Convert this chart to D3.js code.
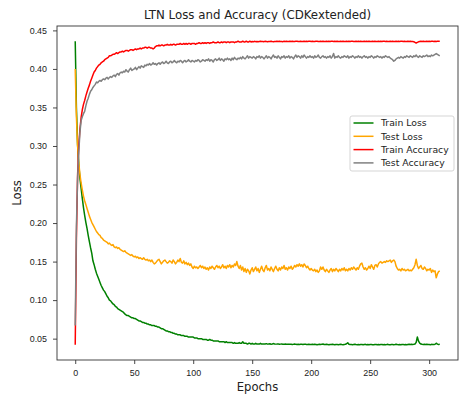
<!DOCTYPE html>
<html>
<head>
<meta charset="utf-8">
<script src="https://cdn.jsdelivr.net/npm/d3@7"></script>
<style>
  body { margin: 0; background: #fff; }
  svg { display: block; font-family: "DejaVu Sans", sans-serif; }
  .tick text { fill: #222; font-size: 8.9px; }
  .tick line { stroke: #333; stroke-width: 0.9; }
</style>
</head>
<body>
<svg id="ltnChart" width="459" height="398"></svg>
<script>
// values, one per epoch (0..309)
const trainLoss = [
  0.436, 0.350, 0.302, 0.276, 0.258, 0.245, 0.232, 0.220, 0.210, 0.201,
  0.193, 0.184, 0.176, 0.168, 0.161, 0.151, 0.146, 0.140, 0.135, 0.131,
  0.127, 0.123, 0.119, 0.116, 0.113, 0.111, 0.108, 0.105, 0.103, 0.100,
  0.099, 0.097, 0.095, 0.094, 0.092, 0.091, 0.089, 0.088, 0.087, 0.086,
  0.085, 0.084, 0.082, 0.081, 0.080, 0.080, 0.079, 0.078, 0.077, 0.077,
  0.076, 0.076, 0.075, 0.074, 0.073, 0.073, 0.072, 0.071, 0.071, 0.070,
  0.070, 0.069, 0.069, 0.068, 0.068, 0.067, 0.067, 0.067, 0.066, 0.066,
  0.065, 0.065, 0.064, 0.063, 0.063, 0.062, 0.061, 0.060, 0.060, 0.059,
  0.059, 0.058, 0.058, 0.057, 0.057, 0.056, 0.056, 0.055, 0.055, 0.055,
  0.054, 0.054, 0.054, 0.053, 0.053, 0.053, 0.052, 0.052, 0.052, 0.052,
  0.052, 0.051, 0.051, 0.051, 0.050, 0.050, 0.050, 0.050, 0.049, 0.049,
  0.049, 0.049, 0.048, 0.048, 0.049, 0.048, 0.048, 0.047, 0.047, 0.047,
  0.047, 0.047, 0.046, 0.046, 0.046, 0.046, 0.046, 0.045, 0.046, 0.045,
  0.045, 0.045, 0.045, 0.045, 0.044, 0.045, 0.044, 0.044, 0.044, 0.045,
  0.044, 0.044, 0.046, 0.044, 0.044, 0.044, 0.043, 0.044, 0.044, 0.043,
  0.044, 0.043, 0.043, 0.044, 0.043, 0.043, 0.043, 0.044, 0.043, 0.043,
  0.0432, 0.0430, 0.0435, 0.0429, 0.0431, 0.0433, 0.0428, 0.0430, 0.0436, 0.0431,
  0.0429, 0.0430, 0.0432, 0.0427, 0.0429, 0.0431, 0.0428, 0.0426, 0.0430, 0.0428,
  0.0427, 0.0429, 0.0426, 0.0428, 0.0425, 0.0427, 0.0430, 0.0426, 0.0424, 0.0427,
  0.0425, 0.0428, 0.0426, 0.0423, 0.0426, 0.0429, 0.0425, 0.0424, 0.0427, 0.0425,
  0.0423, 0.0426, 0.0424, 0.0428, 0.0425, 0.0422, 0.0425, 0.0427, 0.0424, 0.0426,
  0.0431, 0.0425, 0.0423, 0.0426, 0.0424, 0.0422, 0.0425, 0.0423, 0.0426, 0.0424,
  0.0422, 0.0425, 0.0423, 0.0421, 0.0424, 0.0426, 0.0423, 0.0421, 0.0424, 0.0427,
  0.0433, 0.0447, 0.0428, 0.0423, 0.0425, 0.0422, 0.0424, 0.0426, 0.0423, 0.0421,
  0.0424, 0.0422, 0.0425, 0.0423, 0.0421, 0.0424, 0.0426, 0.0422, 0.0424, 0.0421,
  0.0423, 0.0425, 0.0422, 0.0420, 0.0423, 0.0425, 0.0422, 0.0424, 0.0421, 0.0423,
  0.0425, 0.0422, 0.0424, 0.0421, 0.0423, 0.0426, 0.0422, 0.0420, 0.0423, 0.0425,
  0.0422, 0.0424, 0.0427, 0.0423, 0.0421, 0.0424, 0.0422, 0.0425, 0.0423, 0.0421,
  0.0424, 0.0422, 0.0425, 0.0428, 0.0423, 0.0426, 0.0424, 0.0427, 0.0431, 0.0452,
  0.0521, 0.0468, 0.0441, 0.0430, 0.0427, 0.0425, 0.0428, 0.0424, 0.0426, 0.0423,
  0.0425, 0.0422, 0.0426, 0.0423, 0.0425, 0.0428, 0.0441, 0.0429, 0.0424, 0.0426
];

const testLoss = [
  0.400, 0.338, 0.300, 0.278, 0.263, 0.252, 0.243, 0.235, 0.229, 0.224,
  0.219, 0.214, 0.209, 0.205, 0.201, 0.198, 0.195, 0.192, 0.189, 0.187,
  0.185, 0.184, 0.181, 0.180, 0.178, 0.177, 0.176, 0.175, 0.173, 0.174,
  0.172, 0.171, 0.172, 0.169, 0.168, 0.169, 0.167, 0.168, 0.166, 0.165,
  0.164, 0.163, 0.164, 0.162, 0.161, 0.160, 0.159, 0.158, 0.159, 0.157,
  0.156, 0.157, 0.155, 0.156, 0.154, 0.155, 0.154, 0.153, 0.155, 0.153,
  0.152, 0.153, 0.151, 0.152, 0.150, 0.152, 0.149, 0.147, 0.148, 0.150,
  0.152, 0.153, 0.150, 0.147, 0.149, 0.151, 0.152, 0.150, 0.148, 0.149,
  0.151, 0.150, 0.148, 0.152, 0.150, 0.147, 0.149, 0.152, 0.150, 0.154,
  0.149, 0.148, 0.151, 0.147, 0.149, 0.146, 0.148, 0.145, 0.147, 0.143,
  0.141, 0.144, 0.142, 0.143, 0.141, 0.143, 0.145, 0.142, 0.144, 0.141,
  0.143, 0.140, 0.142, 0.139, 0.143, 0.141, 0.144, 0.142, 0.140, 0.143,
  0.145, 0.142, 0.144, 0.141, 0.143, 0.146, 0.142, 0.144, 0.141, 0.145,
  0.143, 0.146, 0.142, 0.145, 0.143, 0.147, 0.145, 0.150, 0.144, 0.141,
  0.145, 0.139, 0.143, 0.137, 0.141, 0.136, 0.140, 0.138, 0.134, 0.139,
  0.142, 0.137, 0.140, 0.143, 0.138, 0.141, 0.136, 0.140, 0.144, 0.139,
  0.137, 0.142, 0.145, 0.139, 0.141, 0.138, 0.143, 0.140, 0.137, 0.141,
  0.144, 0.140, 0.138, 0.142, 0.139, 0.143, 0.141, 0.145, 0.140, 0.142,
  0.139, 0.143, 0.141, 0.144, 0.140, 0.142, 0.145, 0.143, 0.146, 0.144,
  0.147, 0.144, 0.146, 0.143, 0.147, 0.145, 0.142, 0.144, 0.141, 0.139,
  0.141, 0.139, 0.138, 0.140, 0.137, 0.139, 0.136, 0.138, 0.143, 0.140,
  0.143, 0.139, 0.137, 0.140, 0.138, 0.136, 0.139, 0.141, 0.137, 0.140,
  0.138, 0.141, 0.139, 0.137, 0.140, 0.138, 0.141, 0.139, 0.142, 0.138,
  0.140, 0.138, 0.141, 0.139, 0.142, 0.140, 0.143, 0.141, 0.139, 0.142,
  0.140, 0.144, 0.147, 0.148, 0.143, 0.140, 0.142, 0.139, 0.141, 0.144,
  0.141, 0.146, 0.143, 0.140, 0.145, 0.146, 0.143, 0.147, 0.149, 0.150,
  0.148, 0.149, 0.150, 0.149, 0.151, 0.150, 0.151, 0.152, 0.149, 0.151,
  0.152, 0.150, 0.144, 0.141, 0.139, 0.140, 0.138, 0.141, 0.139, 0.140,
  0.138, 0.139, 0.140, 0.138, 0.139, 0.138, 0.140, 0.142, 0.146, 0.153,
  0.145, 0.141, 0.143, 0.145, 0.141, 0.140, 0.143, 0.141, 0.138, 0.140,
  0.139, 0.141, 0.136, 0.139, 0.137, 0.138, 0.129, 0.134, 0.137, 0.138
];

const trainAcc = [
  0.042, 0.180, 0.262, 0.300, 0.322, 0.337, 0.347, 0.354, 0.359, 0.365,
  0.370, 0.375, 0.379, 0.384, 0.388, 0.392, 0.396, 0.398, 0.401, 0.403,
  0.405, 0.406, 0.408, 0.409, 0.410, 0.412, 0.413, 0.414, 0.415, 0.417,
  0.417, 0.418, 0.419, 0.419, 0.420, 0.421, 0.420, 0.421, 0.422, 0.422,
  0.423, 0.422, 0.423, 0.424, 0.424, 0.423, 0.424, 0.425, 0.425, 0.424,
  0.425, 0.426, 0.425, 0.426, 0.426, 0.427, 0.426, 0.427, 0.427, 0.428,
  0.428, 0.427, 0.428, 0.428, 0.427, 0.427, 0.426, 0.427, 0.429, 0.430,
  0.430, 0.431, 0.430, 0.431, 0.431, 0.430, 0.431, 0.431, 0.432, 0.431,
  0.431, 0.432, 0.431, 0.432, 0.432, 0.431, 0.432, 0.432, 0.432, 0.433,
  0.432, 0.432, 0.433, 0.432, 0.433, 0.432, 0.433, 0.433, 0.432, 0.433,
  0.433, 0.433, 0.432, 0.433, 0.433, 0.434, 0.433, 0.433, 0.434, 0.433,
  0.434, 0.433, 0.434, 0.434, 0.433, 0.434, 0.434, 0.435, 0.434, 0.434,
  0.434, 0.435, 0.434, 0.434, 0.435, 0.434, 0.435, 0.435, 0.434, 0.435,
  0.435, 0.434, 0.435, 0.435, 0.435, 0.434, 0.435, 0.435, 0.436, 0.435,
  0.435, 0.435, 0.436, 0.435, 0.435, 0.436, 0.435, 0.435, 0.436, 0.435,
  0.4356, 0.4352, 0.4358, 0.4354, 0.4357, 0.4353, 0.4356, 0.4359, 0.4355, 0.4357,
  0.4354, 0.4358, 0.4356, 0.4353, 0.4357, 0.4355, 0.4359, 0.4356, 0.4354, 0.4357,
  0.4355, 0.4358, 0.4356, 0.4359, 0.4355, 0.4357, 0.4354, 0.4358, 0.4356, 0.4359,
  0.4357, 0.4355, 0.4358, 0.4356, 0.4359, 0.4357, 0.4355, 0.4358, 0.4360, 0.4357,
  0.4356, 0.4359, 0.4357, 0.4355, 0.4358, 0.4356, 0.4359, 0.4357, 0.4360, 0.4358,
  0.4356, 0.4359, 0.4357, 0.4355, 0.4358, 0.4360, 0.4357, 0.4355, 0.4358, 0.4356,
  0.4359, 0.4357, 0.4355, 0.4358, 0.4356, 0.4359, 0.4357, 0.4360, 0.4358, 0.4356,
  0.4358, 0.4356, 0.4359, 0.4357, 0.4355, 0.4358, 0.4356, 0.4359, 0.4357, 0.4355,
  0.4358, 0.4356, 0.4359, 0.4357, 0.4360, 0.4358, 0.4355, 0.4357, 0.4359, 0.4356,
  0.4358, 0.4356, 0.4359, 0.4357, 0.4355, 0.4358, 0.4356, 0.4359, 0.4357, 0.4360,
  0.4357, 0.4355, 0.4358, 0.4356, 0.4359, 0.4357, 0.4355, 0.4358, 0.4356, 0.4359,
  0.4357, 0.4360, 0.4358, 0.4356, 0.4359, 0.4357, 0.4355, 0.4358, 0.4356, 0.4359,
  0.4357, 0.4355, 0.4358, 0.4356, 0.4359, 0.4357, 0.4360, 0.4358, 0.4356, 0.4359,
  0.4357, 0.4355, 0.4358, 0.4356, 0.4359, 0.4357, 0.4356, 0.4353, 0.4345, 0.4336,
  0.4344, 0.4352, 0.4356, 0.4358, 0.4356, 0.4359, 0.4357, 0.4355, 0.4358, 0.4356,
  0.4359, 0.4357, 0.4360, 0.4358, 0.4356, 0.4359, 0.4357, 0.4360, 0.4358, 0.4359
];

const testAcc = [
  0.067, 0.195, 0.258, 0.292, 0.318, 0.333, 0.338, 0.342, 0.345, 0.352,
  0.358, 0.362, 0.367, 0.371, 0.373, 0.376, 0.378, 0.380, 0.383, 0.382,
  0.384, 0.385, 0.384, 0.386, 0.387, 0.386, 0.388, 0.389, 0.387, 0.389,
  0.390, 0.389, 0.391, 0.392, 0.390, 0.393, 0.394, 0.392, 0.395, 0.396,
  0.395, 0.397, 0.396, 0.399, 0.397, 0.396, 0.399, 0.401, 0.398, 0.399,
  0.400, 0.402, 0.399, 0.401, 0.403, 0.401, 0.404, 0.403, 0.402, 0.405,
  0.404, 0.406, 0.405, 0.407, 0.405, 0.406, 0.408, 0.406, 0.407, 0.405,
  0.407, 0.408, 0.406, 0.408, 0.409, 0.407, 0.408, 0.410, 0.408, 0.407,
  0.409, 0.410, 0.408, 0.409, 0.411, 0.409, 0.408, 0.410, 0.409, 0.411,
  0.410, 0.408, 0.410, 0.411, 0.409, 0.410, 0.412, 0.410, 0.409, 0.411,
  0.410, 0.409, 0.411, 0.410, 0.412, 0.411, 0.409, 0.410, 0.412, 0.411,
  0.410, 0.412, 0.411, 0.413, 0.410, 0.412, 0.411, 0.409, 0.412, 0.413,
  0.411, 0.412, 0.414, 0.411, 0.413, 0.412, 0.410, 0.413, 0.412, 0.414,
  0.412, 0.413, 0.411, 0.414, 0.412, 0.415, 0.413, 0.412, 0.414, 0.413,
  0.415, 0.413, 0.416, 0.414, 0.413, 0.415, 0.417, 0.414, 0.416, 0.415,
  0.414, 0.416, 0.415, 0.413, 0.416, 0.415, 0.417, 0.414, 0.416, 0.415,
  0.413, 0.415, 0.417, 0.414, 0.416, 0.415, 0.413, 0.416, 0.418, 0.415,
  0.416, 0.414, 0.417, 0.415, 0.413, 0.416, 0.415, 0.417, 0.414, 0.416,
  0.415, 0.417, 0.414, 0.416, 0.415, 0.413, 0.416, 0.418, 0.415, 0.417,
  0.416, 0.414, 0.417, 0.415, 0.418, 0.416, 0.414, 0.416, 0.415, 0.417,
  0.415, 0.416, 0.414, 0.417, 0.415, 0.416, 0.418, 0.415, 0.414, 0.416,
  0.417, 0.415, 0.416, 0.414, 0.416, 0.415, 0.417, 0.414, 0.416, 0.420,
  0.414, 0.416, 0.415, 0.417, 0.415, 0.414, 0.416, 0.415, 0.417, 0.416,
  0.415, 0.417, 0.414, 0.416, 0.415, 0.417, 0.416, 0.414, 0.416, 0.415,
  0.417, 0.415, 0.416, 0.414, 0.416, 0.417, 0.415, 0.416, 0.414, 0.416,
  0.415, 0.417, 0.416, 0.414, 0.416, 0.415, 0.417, 0.416, 0.415, 0.416,
  0.414, 0.416, 0.415, 0.417, 0.416, 0.415, 0.416, 0.414, 0.413, 0.412,
  0.410, 0.411, 0.413, 0.414, 0.415, 0.414, 0.416, 0.415, 0.414, 0.416,
  0.415, 0.417, 0.416, 0.415, 0.417, 0.416, 0.415, 0.417, 0.416, 0.418,
  0.416, 0.415, 0.417, 0.416, 0.415, 0.417, 0.416, 0.417, 0.418, 0.416,
  0.417, 0.416, 0.418, 0.417, 0.418, 0.419, 0.420, 0.419, 0.418, 0.417
];

const seriesNames = ["Train Loss", "Test Loss", "Train Accuracy", "Test Accuracy"];
const seriesColors = ["green", "orange", "red", "gray"];
const allSeries = [trainLoss, testLoss, trainAcc, testAcc];
const xTicks = [0, 50, 100, 150, 200, 250, 300];
const yTicks = [0.05, 0.10, 0.15, 0.20, 0.25, 0.30, 0.35, 0.40, 0.45];

const chart = d3.select("#ltnChart");
const margin = {top: 26, right: 1, bottom: 38, left: 57};
const chartWidth = chart.attr("width") - margin.left - margin.right;
const chartHeight = chart.attr("height") - margin.top - margin.bottom;

const epochs = d3.range(trainLoss.length);

// matplotlib style 5% padding on both axes
const xExt = d3.extent(epochs);
const xPad = (xExt[1] - xExt[0]) * 0.05;
const xScale = d3.scaleLinear().domain([xExt[0] - xPad, xExt[1] + xPad]).range([0, chartWidth]);

const yExt = d3.extent(allSeries.flat());
const yPad = (yExt[1] - yExt[0]) * 0.05;
const yScale = d3.scaleLinear().domain([yExt[0] - yPad, yExt[1] + yPad]).range([chartHeight, 0]);

const plot = chart.append("g")
  .attr("transform", `translate(${margin.left},${margin.top})`);

// lines, in plotting order
allSeries.forEach((values, i) => {
  let lineGen = d3.line().x((d, j) => xScale(epochs[j])).y(d => yScale(d));
  plot.append("path")
    .attr("d", lineGen(values))
    .attr("fill", "none")
    .attr("stroke", seriesColors[i])
    .attr("stroke-width", 1.5)
    .attr("stroke-linejoin", "round");
});

// axes
const bottomAxis = d3.axisBottom(xScale).tickValues(xTicks).tickSize(4).tickPadding(5.5).tickFormat(d3.format("d"));
plot.append("g")
  .attr("transform", `translate(0,${chartHeight})`)
  .call(bottomAxis)
  .call(g => g.select(".domain").remove());

const leftAxis = d3.axisLeft(yScale).tickValues(yTicks).tickSize(4).tickPadding(6).tickFormat(d3.format(".2f"));
plot.append("g")
  .call(leftAxis)
  .call(g => g.select(".domain").remove());

// frame
plot.append("rect")
  .attr("x", 0)
  .attr("y", 0)
  .attr("width", chartWidth)
  .attr("height", chartHeight)
  .attr("fill", "none")
  .attr("stroke", "#333")
  .attr("stroke-width", 0.9);

// labels
chart.append("text")
  .attr("x", margin.left + chartWidth / 2)
  .attr("y", 19)
  .attr("text-anchor", "middle")
  .attr("font-size", "11.8px")
  .attr("fill", "#222")
  .text("LTN Loss and Accuracy (CDKextended)");

chart.append("text")
  .attr("x", margin.left + chartWidth / 2)
  .attr("y", 391)
  .attr("text-anchor", "middle")
  .attr("font-size", "11.6px")
  .attr("fill", "#222")
  .text("Epochs");

chart.append("text")
  .attr("transform", `translate(20.5,${margin.top + chartHeight / 2}) rotate(-90)`)
  .attr("text-anchor", "middle")
  .attr("font-size", "11.6px")
  .attr("fill", "#222")
  .text("Loss");

// legend
const legend = chart.append("g").attr("transform", "translate(350,116)");
legend.append("rect")
  .attr("width", 104)
  .attr("height", 55)
  .attr("rx", 2)
  .attr("fill", "#fff")
  .attr("fill-opacity", 0.8)
  .attr("stroke", "#d0d0d0")
  .attr("stroke-width", 0.9);

const rowStart = 7;
const rowGap = 13.3;
seriesNames.forEach((name, i) => {
  let yPos = rowStart + i * rowGap;
  legend.append("line")
    .attr("x1", 3.5)
    .attr("x2", 23.5)
    .attr("y1", yPos)
    .attr("y2", yPos)
    .attr("stroke", seriesColors[i])
    .attr("stroke-width", 1.5);
  legend.append("text")
    .attr("x", 31)
    .attr("y", yPos)
    .attr("dy", "0.35em")
    .attr("font-size", "9.3px")
    .attr("fill", "#222")
    .text(name);
});
</script>
</body>
</html>
